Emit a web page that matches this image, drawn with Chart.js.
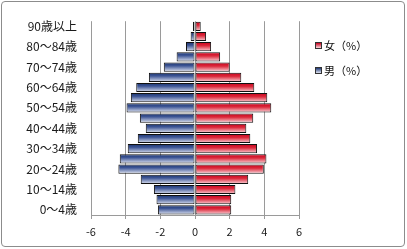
<!DOCTYPE html>
<html>
<head>
<meta charset="utf-8">
<script src="https://cdn.jsdelivr.net/npm/chart.js@4/dist/chart.umd.min.js"></script>
<style>
  html, body { margin:0; padding:0; background:#fff; }
  #wrap { position:relative; width:407px; height:249px; overflow:hidden; }
  #c { position:absolute; left:0; top:0; }
  #frame { position:absolute; left:1px; top:1px; width:404px; height:246px; box-sizing:border-box;
           border:1px solid #8c8c8c; border-radius:4px; pointer-events:none; }
  .lg { position:absolute; left:315px; font:11px "Noto Sans CJK JP", sans-serif; color:#111; line-height:14px; white-space:nowrap; }
  .lg i { display:inline-block; width:5px; height:5px; border:1px solid #333; margin-right:2px; vertical-align:1px; }
</style>
</head>
<body>
<div id="wrap">
  <canvas id="c" width="407" height="249"></canvas>
  <div id="frame"></div>
  <div class="lg" style="top:38px"><i style="background:linear-gradient(#c8001c,#fbd6dc)"></i>女（%）</div>
  <div class="lg" style="top:63px"><i style="background:linear-gradient(#1b3470,#dfe4f2)"></i>男（%）</div>
</div>
<script>
// Age groups, youngest first
const categories = ["0～4歳","5～9歳","10～14歳","15～19歳","20～24歳","25～29歳","30～34歳","35～39歳","40～44歳","45～49歳","50～54歳","55～59歳","60～64歳","65～69歳","70～74歳","75～79歳","80～84歳","85～89歳","90歳以上"];
// 女（%）
const femaleValues = [2.09, 2.09, 2.33, 3.07, 3.97, 4.12, 3.58, 3.19, 2.96, 3.36, 4.40, 4.17, 3.42, 2.67, 2.00, 1.45, 0.93, 0.64, 0.33];
// 男（%） drawn to the left
const maleValues = [-2.14, -2.22, -2.37, -3.13, -4.42, -4.34, -3.88, -3.30, -2.84, -3.18, -3.95, -3.70, -3.39, -2.66, -1.80, -1.06, -0.52, -0.25, -0.12];
const xTicks = [-6, -4, -2, 0, 2, 4, 6];

const BAR_PCT = 0.9;
function gradient(stops) {
  return function(ctx) {
    const chart = ctx.chart;
    const ys = chart.scales && chart.scales.y;
    if (!chart.chartArea || !ys || ctx.dataIndex === undefined) return stops[0][1];
    const yc = ys.getPixelForValue(ctx.dataIndex);
    const h = (chart.chartArea.bottom - chart.chartArea.top) / categories.length * BAR_PCT;
    const g = chart.ctx.createLinearGradient(0, yc - h / 2, 0, yc + h / 2);
    stops.forEach(s => g.addColorStop(s[0], s[1]));
    return g;
  };
}
const femaleStops = [[0, '#c8001c'], [0.4, '#dc2a3c'], [1, '#fbd6dc']];
const maleStops = [[0, '#1b3470'], [0.35, '#3d5595'], [1, '#dfe4f2']];

new Chart(document.getElementById('c'), {
  type: 'bar',
  data: {
    labels: categories,
    datasets: [
      { label: '女（%）', data: femaleValues, backgroundColor: gradient(femaleStops),
        borderColor: '#111', borderWidth: 1, borderSkipped: false,
        barPercentage: BAR_PCT, categoryPercentage: 1 },
      { label: '男（%）', data: maleValues, backgroundColor: gradient(maleStops),
        borderColor: '#111', borderWidth: 1, borderSkipped: false,
        barPercentage: BAR_PCT, categoryPercentage: 1 }
    ]
  },
  options: {
    indexAxis: 'y',
    responsive: false,
    devicePixelRatio: 1,
    animation: false,
    layout: { padding: { left: 0, right: 108, top: 10, bottom: 0 } },
    plugins: { legend: { display: false }, tooltip: { enabled: false } },
    scales: {
      x: {
        stacked: true,
        min: -6, max: 6,
        afterBuildTicks: s => { s.ticks = xTicks.map(v => ({ value: v })); },
        afterFit: s => { s.height = 34; },
        grid: { color: '#9a9a9a', lineWidth: 1, tickLength: 4, drawTicks: true },
        border: { display: true, color: '#9a9a9a' },
        ticks: { color: '#1a1a1a', padding: 6, font: { family: '"Noto Sans CJK JP", sans-serif', size: 11 } }
      },
      y: {
        stacked: true,
        reverse: true,
        afterFit: s => { s.width = 91; },
        grid: { display: false, drawTicks: false },
        border: { display: false },
        ticks: {
          autoSkip: false,
          padding: 14,
          color: '#1a1a1a',
          font: { family: '"Noto Sans CJK JP", sans-serif', size: 12 },
          callback: function(v, i) { return i % 2 === 0 ? categories[i] : ''; }
        }
      }
    }
  }
});
</script>
</body>
</html>
